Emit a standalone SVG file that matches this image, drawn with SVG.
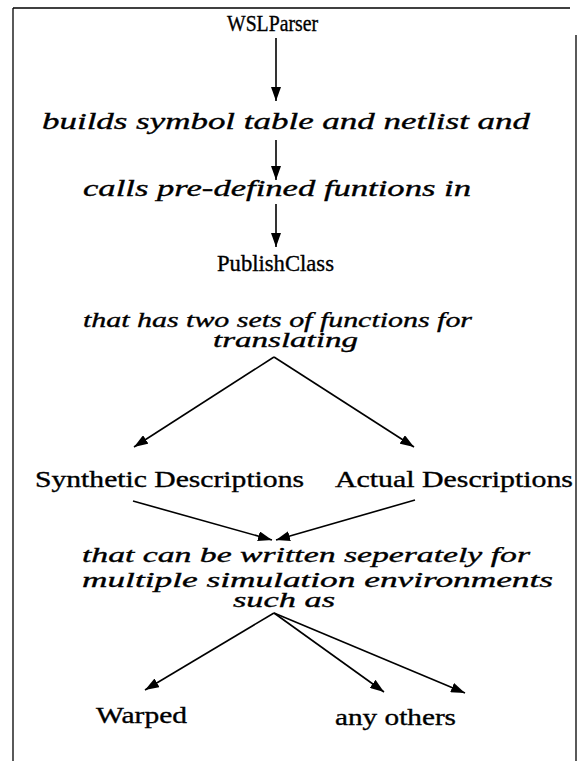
<svg xmlns="http://www.w3.org/2000/svg" width="578" height="761" viewBox="0 0 578 761">
<defs>
<style>
.rm{font-family:"Liberation Serif","Times New Roman",serif;font-size:23px;fill:#000;stroke:#000;stroke-width:0.35}
.it{font-family:"Liberation Serif","Times New Roman",serif;font-style:italic;font-size:23px;fill:#000;stroke:#000;stroke-width:0.35}
.it2{font-family:"Liberation Serif","Times New Roman",serif;font-style:italic;font-size:21px;fill:#000;stroke:#000;stroke-width:0.35}
.ln{stroke:#000;stroke-width:1.6;fill:none;marker-end:url(#ah)}
.bd{stroke:#000;stroke-width:1.3;fill:none}
</style>
<marker id="ah" viewBox="0 0 14 10" refX="14" refY="5" markerWidth="14" markerHeight="10" markerUnits="userSpaceOnUse" orient="auto">
<path d="M0,0 L14,5 L0,10 z" fill="#000"/>
</marker>
</defs>
<rect width="578" height="761" fill="#fff"/>
<g id="border">
<line class="bd" x1="13" y1="8" x2="570" y2="8"/>
<line class="bd" x1="13" y1="8" x2="13" y2="761"/>
<line class="bd" x1="576" y1="35" x2="576" y2="761"/>
</g>
<g id="connectors">
<line class="ln" x1="276" y1="38" x2="276" y2="101"/>
<line class="ln" x1="276" y1="140" x2="276" y2="180"/>
<line class="ln" x1="276" y1="204" x2="276" y2="247"/>
<line class="ln" x1="274" y1="357" x2="134" y2="447"/>
<line class="ln" x1="274" y1="357" x2="414" y2="447"/>
<line class="ln" x1="133" y1="501" x2="272" y2="540"/>
<line class="ln" x1="415" y1="500" x2="276" y2="540"/>
<line class="ln" x1="274" y1="613" x2="145" y2="690"/>
<line class="ln" x1="274" y1="613" x2="384" y2="692"/>
<line class="ln" x1="274" y1="613" x2="465" y2="693"/>
</g>
<g id="n-wslparser"><text class="rm" x="227" y="31" textLength="91" lengthAdjust="spacingAndGlyphs">WSLParser</text></g>
<g id="n-builds"><text class="it" x="42" y="129" textLength="488" lengthAdjust="spacingAndGlyphs">builds symbol table and netlist and</text></g>
<g id="n-calls"><text class="it" x="83" y="196" textLength="388" lengthAdjust="spacingAndGlyphs">calls pre-defined funtions in</text></g>
<g id="n-publishclass"><text class="rm" x="217" y="271" textLength="117" lengthAdjust="spacingAndGlyphs">PublishClass</text></g>
<g id="n-twosets">
<text class="it2" x="83" y="327" textLength="389" lengthAdjust="spacingAndGlyphs">that has two sets of functions for</text>
<text class="it2" x="213" y="347" textLength="145" lengthAdjust="spacingAndGlyphs">translating</text>
</g>
<g id="n-synthetic"><text class="rm" x="35" y="487" textLength="269" lengthAdjust="spacingAndGlyphs">Synthetic Descriptions</text></g>
<g id="n-actual"><text class="rm" x="335" y="487" textLength="238" lengthAdjust="spacingAndGlyphs">Actual Descriptions</text></g>
<g id="n-written">
<text class="it2" x="82" y="562" textLength="448" lengthAdjust="spacingAndGlyphs">that can be written seperately for</text>
<text class="it2" x="82" y="587" textLength="471" lengthAdjust="spacingAndGlyphs">multiple simulation environments</text>
<text class="it2" x="233" y="607" textLength="102" lengthAdjust="spacingAndGlyphs">such as</text>
</g>
<g id="n-warped"><text class="rm" x="96" y="723" textLength="91" lengthAdjust="spacingAndGlyphs">Warped</text></g>
<g id="n-anyothers"><text class="rm" x="335" y="725" textLength="121" lengthAdjust="spacingAndGlyphs">any others</text></g>
</svg>
